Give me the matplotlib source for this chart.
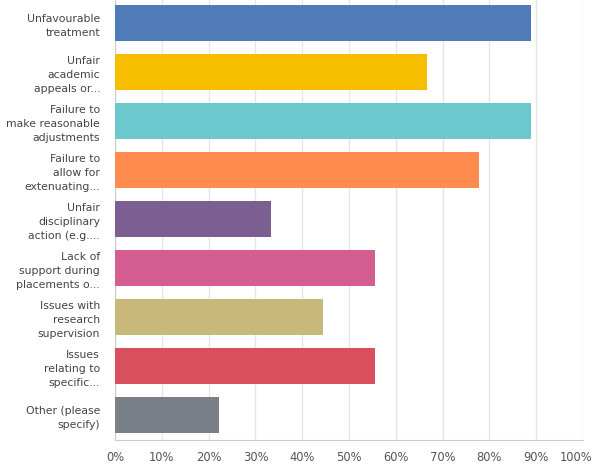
import matplotlib.pyplot as plt
from matplotlib.transforms import ScaledTranslation

# Survey answers (share of respondents)
categories = ['Unfavourable\ntreatment',
              'Unfair\nacademic\nappeals or...',
              'Failure to\nmake reasonable\nadjustments',
              'Failure to\nallow for\nextenuating...',
              'Unfair\ndisciplinary\naction (e.g....',
              'Lack of\nsupport during\nplacements o...',
              'Issues with\nresearch\nsupervision',
              'Issues\nrelating to\nspecific...',
              'Other (please\nspecify)']
values = [88.9, 66.7, 88.9, 77.8, 33.3, 55.6, 44.4, 55.6, 22.2]
colors = ['#4f7cb9', '#f7be00', '#6bc8cd', '#ff8b4f', '#7d5e91',
          '#d45e91', '#c8b87a', '#d94f5e', '#798088']
tick_values = list(range(0, 101, 10))
tick_labels = ['%d%%' % t for t in tick_values]

plt.rcParams['font.family'] = ['DejaVu Sans']

fig = plt.figure(figsize=(5.95, 4.71), dpi=100)
ax = fig.add_axes([115 / 595, 31 / 471, 468 / 595, 440 / 471])

pos = list(range(len(categories)))
ax.barh(pos, values, height=0.73, color=colors, zorder=3)

ax.set_xlim(0, 100)
ax.set_ylim(8.51, -0.47)
ax.set_xticks(tick_values)
ax.set_xticklabels(tick_labels)
ax.set_yticks(pos)
ax.set_yticklabels(categories, linespacing=1.5, color='#444444', fontsize=7.8)

# Grid and frame
ax.grid(axis='x', color='#e6e6e6', linewidth=1, zorder=0)
for side in ['top', 'right']:
    ax.spines[side].set_visible(False)
ax.spines['left'].set_color('#cccccc')
ax.spines['bottom'].set_color('#cccccc')
ax.tick_params(axis='both', length=0)
ax.tick_params(axis='x', pad=8, labelsize=8.3, labelcolor='#555555')
ax.tick_params(axis='y', pad=10.8)

# keep the 100% label inside the picture
last = ax.get_xticklabels()[-1]
last.set_transform(last.get_transform() + ScaledTranslation(-7 / 100, 0, fig.dpi_scale_trans))

fig.savefig('out.png', dpi=100)
